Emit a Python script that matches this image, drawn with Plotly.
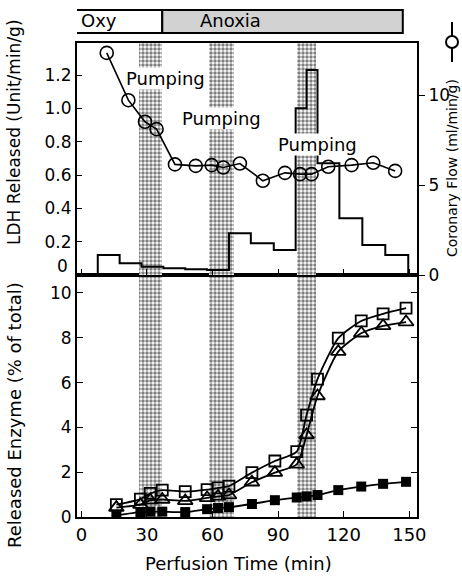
import plotly.graph_objects as go

# ---------------- data ----------------
# pumping periods (min)
pump_start = [26.5, 58.5, 98.7]
pump_end = [37.0, 70.0, 107.2]

# LDH released histogram (Unit/min/g): bin edges and values
ldh_edges = [7.5, 17.5, 27.5, 37.5, 47.5, 57.5, 67.5, 77.5, 88, 98, 103, 108, 118, 128.5, 139, 149.5]
ldh_vals = [0.12, 0.07, 0.05, 0.04, 0.035, 0.03, 0.25, 0.19, 0.15, 1.0, 1.23, 0.67, 0.34, 0.18, 0.12]

# coronary flow (ml/min/g)
flow_t = [11.6, 21.5, 29.1, 34.4, 42.8, 52.3, 59.6, 64.9, 72.5, 83.0, 93.1, 100.0, 105.3, 112.9, 123.6, 133.5, 143.5]
flow_v = [12.35, 9.72, 8.52, 8.11, 6.15, 6.07, 6.11, 5.98, 6.2, 5.24, 5.68, 5.61, 5.61, 6.02, 6.11, 6.24, 5.79]

# released enzymes (% of total)
enz_t = [16, 27, 31.5, 37, 47.5, 57.5, 62.5, 67.5, 78, 88.5, 98.5, 103, 108, 117.5, 128, 138, 148.5]
open_sq = [0.55, 0.8, 1.05, 1.2, 1.13, 1.22, 1.3, 1.38, 1.98, 2.5, 2.92, 4.55, 6.15, 7.98, 8.75, 9.07, 9.32]
open_tri = [0.42, 0.55, 0.75, 0.78, 0.72, 0.85, 0.92, 0.98, 1.55, 1.98, 2.35, 3.66, 5.4, 7.38, 8.2, 8.53, 8.7]
filled_sq = [0.08, 0.22, 0.24, 0.24, 0.22, 0.35, 0.4, 0.44, 0.58, 0.75, 0.87, 0.92, 0.98, 1.2, 1.36, 1.48, 1.57]

x_ticks = [0, 30, 60, 90, 120, 150]
ldh_ticks = [0, 0.2, 0.4, 0.6, 0.8, 1.0, 1.2]
ldh_ticktext = ["", "0.2", "0.4", "0.6", "0.8", "1.0", "1.2"]
flow_ticks = [0, 5, 10]
enz_ticks = [0, 2, 4, 6, 8, 10]

phase_oxy = [-3.8, 37.0]
phase_anoxia = [37.0, 147.0]

# ---------------- layout constants ----------------
FONT = "DejaVu Sans"
XR = [-2, 153.5]
Y_ENZ = [0, 10.8]
Y_LDH = [0, 1.392]
Y_FLOW = [0, 12.9]
SPLIT = 0.5105

fig = go.Figure()

band_pattern = dict(shape=".", fgcolor="black", bgcolor="white", size=4, solidity=0.6)

# pumping bands in both panels
for s, e in zip(pump_start, pump_end):
    for xa, ya, top in (("x", "y", Y_ENZ[1]), ("x2", "y2", Y_LDH[1])):
        fig.add_trace(go.Bar(
            x=[(s + e) / 2], y=[top], width=[e - s], base=0,
            xaxis=xa, yaxis=ya,
            marker=dict(color="white", pattern=band_pattern, line=dict(width=0)),
            showlegend=False, hoverinfo="skip"))

# LDH step histogram
sx = [ldh_edges[0]] + ldh_edges[:-1] + [ldh_edges[-1]]
sy = [0] + ldh_vals + [0]
fig.add_trace(go.Scatter(x=sx, y=sy, mode="lines", line=dict(color="black", width=2, shape="hv"),
                         xaxis="x2", yaxis="y2", showlegend=False, hoverinfo="skip"))

# coronary flow
fig.add_trace(go.Scatter(x=flow_t, y=flow_v, mode="lines+markers",
                         line=dict(color="black", width=1.6),
                         marker=dict(symbol="circle-open", size=13, color="black", line=dict(width=1.6)),
                         xaxis="x2", yaxis="y3", showlegend=False))

# enzymes
fig.add_trace(go.Scatter(x=enz_t, y=filled_sq, mode="lines+markers",
                         line=dict(color="black", width=1.8, shape="spline", smoothing=0.6),
                         marker=dict(symbol="square", size=10, color="black"),
                         xaxis="x", yaxis="y", showlegend=False))
fig.add_trace(go.Scatter(x=enz_t, y=open_tri, mode="lines+markers",
                         line=dict(color="black", width=1.8, shape="spline", smoothing=0.6),
                         marker=dict(symbol="triangle-up-open", size=13, color="black", line=dict(width=1.8)),
                         xaxis="x", yaxis="y", showlegend=False))
fig.add_trace(go.Scatter(x=enz_t, y=open_sq, mode="lines+markers",
                         line=dict(color="black", width=1.8, shape="spline", smoothing=0.6),
                         marker=dict(symbol="square-open", size=11, color="black", line=dict(width=1.8)),
                         xaxis="x", yaxis="y", showlegend=False))

axis_common = dict(showline=True, linecolor="black", linewidth=2, showgrid=False, zeroline=False,
                   tickcolor="black")
tf17 = dict(family=FONT, size=17, color="black")
tf18 = dict(family=FONT, size=18, color="black")

fig.update_layout(
    width=462, height=580,
    margin=dict(l=77, r=45, t=43, b=63),
    paper_bgcolor="white", plot_bgcolor="rgba(0,0,0,0)",
    barmode="overlay", bargap=0,
    font=dict(family=FONT, color="black"),
    xaxis=dict(domain=[0, 1], anchor="y", range=XR, tickvals=x_ticks, ticks="inside", ticklen=6,
               mirror=True, tickfont=tf18, **axis_common),
    yaxis=dict(domain=[0, SPLIT], anchor="x", range=Y_ENZ, tickvals=enz_ticks, ticks="inside",
               ticklen=6, mirror="ticks", tickfont=tf17, **axis_common),
    xaxis2=dict(domain=[0, 1], anchor="y2", range=XR, tickvals=x_ticks, ticks="inside", ticklen=6,
                showticklabels=False, mirror=True, **axis_common),
    yaxis2=dict(domain=[SPLIT, 1], anchor="x2", range=Y_LDH, tickvals=ldh_ticks, ticktext=ldh_ticktext,
                ticks="inside", ticklen=5, mirror=True, tickfont=tf17, **axis_common),
    yaxis3=dict(domain=[SPLIT, 1], anchor="x2", overlaying="y2", side="right", range=Y_FLOW,
                tickvals=flow_ticks, ticks="outside", ticklen=6, tickfont=tf17, **axis_common),
)


def px_y(py):
    return (517 - py) / 474


def px_x(px):
    return (px - 77) / 340


def note(x, y, text, size=18, angle=0, xref="paper", yref="paper", xanchor="center", **kw):
    fig.add_annotation(x=x, y=y, xref=xref, yref=yref, text=text, textangle=angle,
                       showarrow=False, xanchor=xanchor, yanchor="middle",
                       font=dict(family=FONT, size=size, color="black"), **kw)


# phase bar
fig.add_shape(type="rect", xref="x", yref="paper", x0=phase_oxy[0], x1=phase_oxy[1],
              y0=px_y(33), y1=px_y(10), line=dict(color="black", width=2), fillcolor="white")
fig.add_shape(type="rect", xref="x", yref="paper", x0=phase_anoxia[0], x1=phase_anoxia[1],
              y0=px_y(33), y1=px_y(10), line=dict(color="black", width=2), fillcolor="#d2d2d2")
note(8, px_y(21), "Oxy", xref="x")
note(68, px_y(21), "Anoxia", xref="x")

# Pumping labels
for tx, ty in ((38.7, 1.18), (63.9, 0.94), (108.2, 0.786)):
    note(tx, ty, "Pumping", xref="x2", yref="y2", bgcolor="white", borderpad=0)

# zero label of the LDH axis, lifted slightly above the panel boundary as in the original
note(px_x(70), px_y(266), "0", size=17, xanchor="right")

# axis titles
note(px_x(14), px_y(132), "LDH Released (Unit/min/g)", size=17, angle=-90)
note(px_x(14), px_y(415), "Released Enzyme (% of total)", size=18, angle=-90)
note(px_x(238), px_y(563), "Perfusion Time (min)", size=18)
note(px_x(452), px_y(168), "Coronary Flow (ml/min/g)", size=14, angle=-90)

# legend symbol for coronary flow
cx, cy = px_x(452), px_y(42)
fig.add_shape(type="line", xref="paper", yref="paper", x0=cx, x1=cx, y0=px_y(22), y1=px_y(62),
              line=dict(color="black", width=2))
fig.add_shape(type="circle", xref="paper", yref="paper", x0=cx - 6 / 340, x1=cx + 6 / 340,
              y0=cy - 6 / 474, y1=cy + 6 / 474, line=dict(color="black", width=2), fillcolor="white")

fig.write_html("out.html")
